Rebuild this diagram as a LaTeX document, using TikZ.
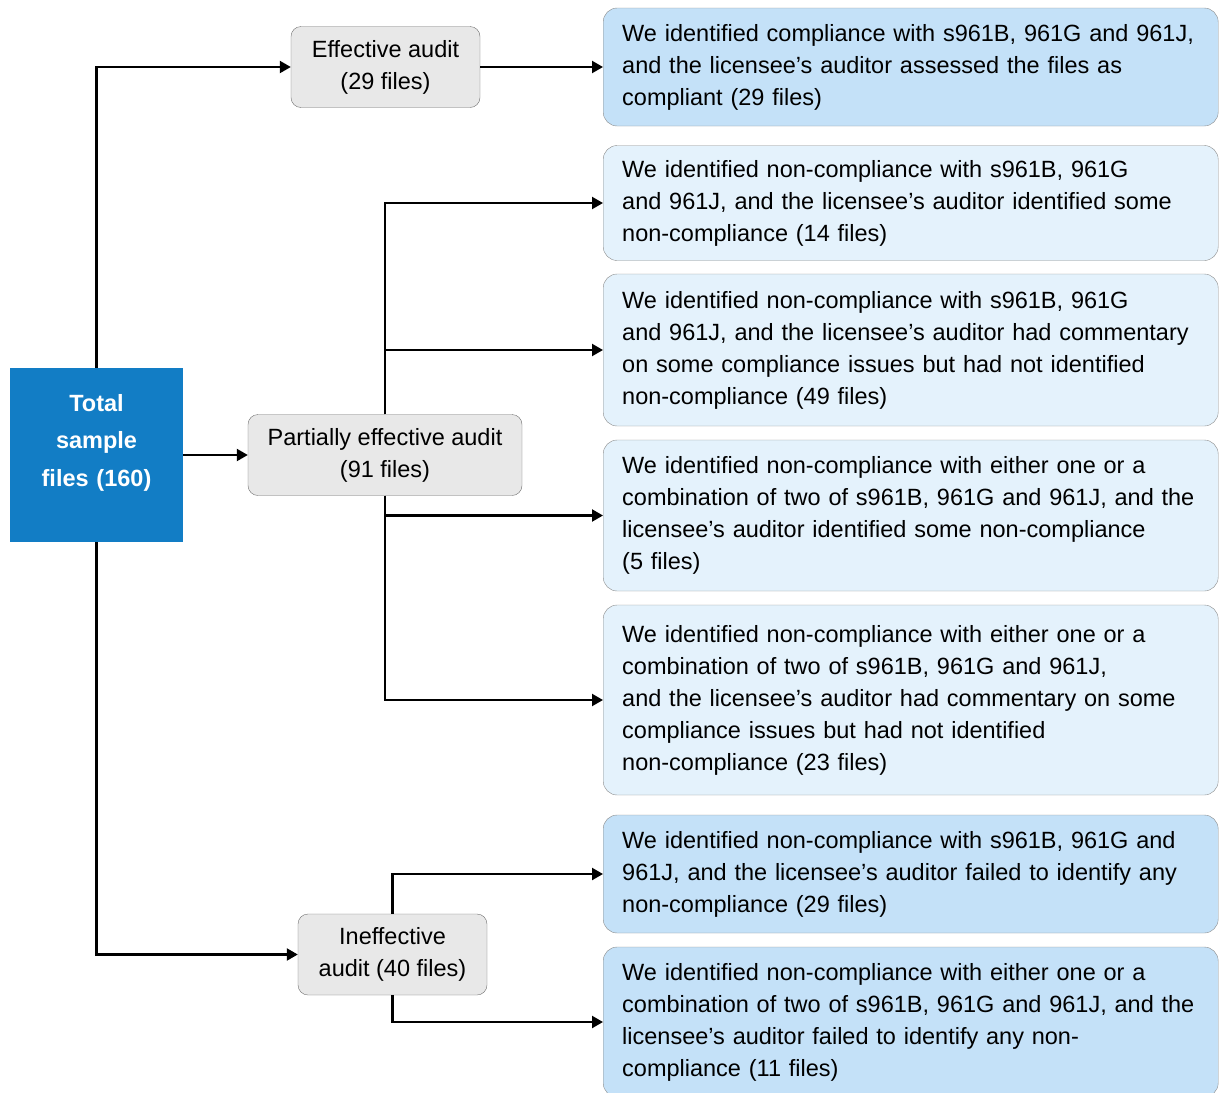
\documentclass[tikz,border=0pt]{standalone}
\usepackage{fontspec}
\setmainfont{Liberation Sans}
\usetikzlibrary{arrows.meta}
\definecolor{c_total}{HTML}{127DC5}
\definecolor{c_grey}{HTML}{E8E8E8}
\definecolor{c_grey_line}{HTML}{6F6F6F}
\definecolor{c_blue_dark}{HTML}{C4E1F8}
\definecolor{c_blue_light}{HTML}{E4F2FC}
\definecolor{c_box_line}{HTML}{8C8C8C}

\begin{document}
\begin{tikzpicture}
[x=1pt,y=-1pt,font=\fontsize{23.5}{32}\selectfont,
 total/.style={fill=c_total,text=white,font=\fontsize{23.5}{37.5}\selectfont\bfseries,align=center,text width=173pt,text depth=105pt,minimum height=174pt,inner sep=0pt},
 audit/.style={draw=c_grey_line,fill=c_grey,rounded corners=10pt,align=center,minimum height=81pt,inner sep=0pt},
 finding/.style={draw=c_box_line,rounded corners=14pt,align=left,text width=577pt,inner xsep=19pt,inner ysep=0pt,anchor=west},
 strong/.style={finding,fill=c_blue_dark},
 weak/.style={finding,fill=c_blue_light},
 link/.style={line width=2.2pt,-{Triangle[length=11pt,width=12pt]}}]
	\useasboundingbox (0,0) rectangle (1219,1093);

	% sample and audit outcomes
	\node [total] (tot) at (96.5,455) {Total\\sample\\files (160)};
	\node [audit, minimum width=189pt] (eff) at (385.5,67) {Effective audit\\(29 files)};
	\node [audit, minimum width=274pt] (part) at (385,455) {Partially effective audit\\(91 files)};
	\node [audit, minimum width=189pt] (ineff) at (392.5,954.5) {Ineffective\\audit (40 files)};

	% findings
	\node [strong, minimum height=118pt] (f1) at (603,67) {We identified compliance with s961B, 961G and 961J,\\and the licensee’s auditor assessed the files as\\compliant (29 files)};
	\node [weak, minimum height=115pt] (f2) at (603,203) {We identified non-compliance with s961B, 961G\\and 961J, and the licensee’s auditor identified some\\non-compliance (14 files)};
	\node [weak, minimum height=152pt] (f3) at (603,350) {We identified non-compliance with s961B, 961G\\and 961J, and the licensee’s auditor had commentary\\on some compliance issues but had not identified\\non-compliance (49 files)};
	\node [weak, minimum height=151pt] (f4) at (603,515.5) {We identified non-compliance with either one or a\\combination of two of s961B, 961G and 961J, and the\\licensee’s auditor identified some non-compliance\\(5 files)};
	\node [weak, minimum height=190pt] (f5) at (603,700) {We identified non-compliance with either one or a\\combination of two of s961B, 961G and 961J,\\and the licensee’s auditor had commentary on some\\compliance issues but had not identified\\non-compliance (23 files)};
	\node [strong, minimum height=118pt] (f6) at (603,874) {We identified non-compliance with s961B, 961G and\\961J, and the licensee’s auditor failed to identify any\\non-compliance (29 files)};
	\node [strong, minimum height=150pt] (f7) at (603,1022) {We identified non-compliance with either one or a\\combination of two of s961B, 961G and 961J, and the\\licensee’s auditor failed to identify any non-\\compliance (11 files)};

	% connectors
	\draw [link] (tot.north) |- (eff.west);
	\draw [link] (tot.east) -- (part.west);
	\draw [link] (tot.south) |- (ineff.west);
	\draw [link] (eff.east) -- (f1.west);
	\draw [link] (part.north) |- (f2.west);
	\draw [link] (part.north) |- (f3.west);
	\draw [link] (part.south) |- (f4.west);
	\draw [link] (part.south) |- (f5.west);
	\draw [link] (ineff.north) |- (f6.west);
	\draw [link] (ineff.south) |- (f7.west);
\end{tikzpicture}
\end{document}
